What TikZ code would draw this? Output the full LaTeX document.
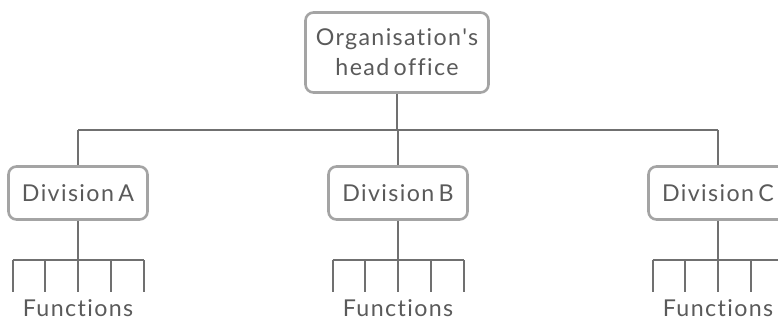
\documentclass[tikz,border=0pt]{standalone}
\usepackage{fontspec}
\setmainfont{Lato}[Ligatures={TeXOff,NoCommon},LetterSpace=6,WordSpace=0.6]
\begin{document}
\begin{tikzpicture}[x=1pt,y=-1pt,
  box/.style={draw=boxgray,line width=2.6pt,rounded corners=8pt,fill=white,text=txtgray,align=center,font=\fontsize{23.2}{30}\selectfont,inner sep=0pt},
  link/.style={draw=linegray,line width=2pt},
  lbl/.style={text=txtgray,font=\fontsize{23.2}{26}\selectfont}]
\definecolor{boxgray}{HTML}{A4A4A4}
\definecolor{linegray}{HTML}{707070}
\definecolor{txtgray}{HTML}{5A5A5A}
\useasboundingbox (0,0) rectangle (778,323);
\clip (0,0) rectangle (778,323);
\node[box,minimum width=183pt,minimum height=80pt] (head) at (397,52.5) {Organisation's\\head office};
\coordinate (bus) at (397,130);
\foreach \n/\x in {A/78,B/398,C/718}{
  \coordinate (top\n) at (\x,130);
  \coordinate (fb\n) at (\x,260);
  \node[lbl] (f\n) at (\x,308) {Functions};
}
\draw[link] (head.south) -- (bus);
\draw[link] (topA) -- (topC);
\foreach \n/\x in {A/78,B/398,C/718}{
  \node[box,minimum width=139pt,minimum height=53pt] (d\n) at (\x,193) {Division \n};
  \draw[link] (top\n) -- (d\n.north);
  \draw[link] (d\n.south) -- (fb\n);
  \coordinate (l\n) at (\x-65.5,260);
  \coordinate (r\n) at (\x+65.5,260);
  \draw[link] (l\n) -- (r\n);
  \foreach \k in {-2,-1,0,1,2}{
    \coordinate (t\n\k) at (\x+32.75*\k,260);
    \coordinate (e\n\k) at (\x+32.75*\k,292);
    \draw[link] (t\n\k) -- (e\n\k);
  }
}
\end{tikzpicture}
\end{document}
